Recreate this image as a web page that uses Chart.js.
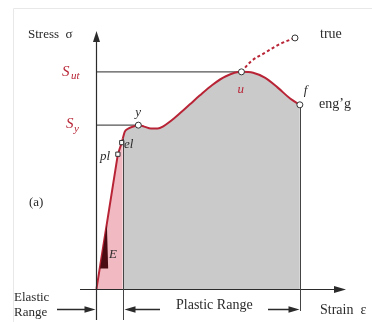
<!DOCTYPE html>
<html>
<head>
<meta charset="utf-8">
<script src="https://cdn.jsdelivr.net/npm/chart.js@4"></script>
<style>
  html, body { margin: 0; padding: 0; background: #fff; }
  #wrap { width: 372px; height: 322px; }
</style>
</head>
<body>
<div id="wrap"><canvas id="chart"></canvas></div>
<script>
'use strict';

// values: strain (mm/mm), stress (MPa, arbitrary scale)
const elasticStrain = [0, 0.011, 0.022, 0.026, 0.027];
const elasticStress = [0, 139, 278, 302, 310];

const plasticStrain = [0.027, 0.029, 0.032, 0.036, 0.043, 0.049, 0.056, 0.063, 0.069, 0.076,
  0.086, 0.096, 0.106, 0.119, 0.133, 0.149, 0.161, 0.173, 0.186, 0.199, 0.209];
const plasticStress = [310, 324, 330, 334, 338, 335, 331, 331, 336, 346,
  363, 381, 399, 421, 439, 448, 446, 436, 416, 393, 380];

const trueStrain = [0.149, 0.159, 0.172, 0.189, 0.204];
const trueStress = [448, 470, 486, 506, 518];

const Sut = 448;
const Sy = 338;
const ultStrain = 0.149;
const yieldStrain = 0.043;
const elasticLimit = 0.027;
const fracture = 0.209;
const fractureStress = 380;

// marked points: pl, el, y, u, f, end of true curve
const markStrain = [0.022, 0.026, 0.043, 0.149, 0.209, 0.204];
const markStress = [278, 302, 338, 448, 380, 518];
const markStyle = ['rect', 'rect', 'circle', 'circle', 'circle', 'circle'];

const RED = '#b82436';
const INK = '#2b2b2b';

const pts = (xs, ys) => xs.map((v, i) => ({x: v, y: ys[i]}));

function arrowHead(c, x, y, dir, len, half) {
  c.beginPath();
  if (dir === 'right') { c.moveTo(x, y); c.lineTo(x - len, y - half); c.lineTo(x - len, y + half); }
  if (dir === 'left') { c.moveTo(x, y); c.lineTo(x + len, y - half); c.lineTo(x + len, y + half); }
  if (dir === 'up') { c.moveTo(x, y); c.lineTo(x - half, y + len); c.lineTo(x + half, y + len); }
  c.closePath();
  c.fill();
}

const sketch = {
  id: 'sketch',
  beforeDatasetsDraw(chart) {
    const c = chart.ctx;
    c.save();
    c.strokeStyle = '#e8e8e8';
    c.lineWidth = 1;
    c.beginPath();
    c.moveTo(13.5, 322); c.lineTo(13.5, 8.5); c.lineTo(372, 8.5);
    c.stroke();
    c.restore();
  },
  afterDatasetsDraw(chart) {
    const c = chart.ctx, sx = chart.scales.x, sy = chart.scales.y;
    const X = v => sx.getPixelForValue(v), Y = v => sy.getPixelForValue(v);
    const x0 = Math.round(X(0)) + 0.5, y0 = Math.round(Y(0)) + 0.5;
    c.save();
    c.strokeStyle = INK; c.fillStyle = INK; c.lineWidth = 1.2;

    // axes
    c.beginPath();
    c.moveTo(x0, 320); c.lineTo(x0, 40);
    c.moveTo(80, y0); c.lineTo(336, y0);
    c.stroke();
    arrowHead(c, x0, 31, 'up', 11, 3.5);
    arrowHead(c, 346, y0, 'right', 12, 3.5);

    // range boundaries
    const xe = Math.round(X(elasticLimit)) + 0.5, xf = Math.round(X(fracture)) + 0.5;
    c.lineWidth = 1;
    c.strokeStyle = '#444';
    c.beginPath();
    c.moveTo(xe, Y(310)); c.lineTo(xe, 320);
    c.moveTo(xf, Y(fractureStress) + 3); c.lineTo(xf, 311);
    c.stroke();

    // range arrows
    c.strokeStyle = INK; c.lineWidth = 1.3;
    const ya = 309.5;
    c.beginPath();
    c.moveTo(57, ya); c.lineTo(x0 - 8, ya);
    c.moveTo(xe + 8, ya); c.lineTo(160, ya);
    c.moveTo(268, ya); c.lineTo(xf - 8, ya);
    c.stroke();
    arrowHead(c, x0 - 1, ya, 'right', 11, 3.2);
    arrowHead(c, xe + 1, ya, 'left', 11, 3.2);
    arrowHead(c, xf - 1, ya, 'right', 11, 3.2);

    // modulus slope triangle
    c.fillStyle = '#4a0c12';
    c.beginPath();
    c.moveTo(X(0.0037), Y(42));
    c.lineTo(X(0.0107), Y(133));
    c.lineTo(X(0.012), Y(42));
    c.closePath();
    c.fill();

    // texts
    c.textBaseline = 'middle';
    c.fillStyle = INK;
    c.font = '13px "Liberation Serif"';
    c.fillText('Stress  σ', 28, 35);
    c.fillText('Elastic', 14, 298);
    c.fillText('Range', 14, 313);
    c.fillText('(a)', 29, 203);
    c.font = '14px "Liberation Serif"';
    c.fillText('Plastic Range', 176, 305);
    c.fillText('Strain  ε', 320, 310);
    c.fillText('true', 320, 34);
    c.fillText('eng\u2019g', 319, 104);

    c.font = 'italic 13px "Liberation Serif"';
    c.fillText('y', X(yieldStrain) - 3, Y(Sy) - 13);
    c.fillText('f', X(fracture) + 4, Y(fractureStress) - 14);
    c.fillText('pl', 100, 157);
    c.fillText('el', 124, 145);
    c.fillText('E', 109, 255);

    c.fillStyle = RED;
    c.fillText('u', X(ultStrain) - 4, Y(Sut) + 18);
    c.font = 'italic 15px "Liberation Serif"';
    c.fillText('S', 62, Y(Sut));
    c.fillText('S', 66, Y(Sy) - 1);
    c.font = 'italic 11px "Liberation Serif"';
    c.fillText('ut', 71, Y(Sut) + 4);
    c.fillText('y', 74, Y(Sy) + 4);
    c.restore();
  }
};

new Chart(document.getElementById('chart').getContext('2d'), {
  type: 'scatter',
  data: {
    datasets: [
      {label: 'marks', data: pts(markStrain, markStress), showLine: false, order: 0,
        pointStyle: markStyle, pointRadius: 3, pointBackgroundColor: '#fff', pointBorderColor: '#333', pointBorderWidth: 1},
      {label: 'elastic', data: pts(elasticStrain, elasticStress), showLine: true, order: 2,
        borderColor: RED, borderWidth: 2, backgroundColor: '#f1b9c2', fill: 'origin', pointRadius: 0},
      {label: 'plastic', data: pts(plasticStrain, plasticStress), showLine: true, order: 3,
        borderColor: RED, borderWidth: 2, backgroundColor: '#cbcaca', fill: 'origin', pointRadius: 0,
        cubicInterpolationMode: 'monotone'},
      {label: 'true', data: pts(trueStrain, trueStress), showLine: true, order: 1,
        borderColor: RED, borderWidth: 2, borderDash: [3, 2.5], fill: false, pointRadius: 0,
        cubicInterpolationMode: 'monotone'},
      {label: 'Sut', data: pts([0, ultStrain], [Sut, Sut]), showLine: true, order: 4,
        borderColor: '#555', borderWidth: 1.2, pointRadius: 0},
      {label: 'Sy', data: pts([0, yieldStrain], [Sy, Sy]), showLine: true, order: 4,
        borderColor: '#555', borderWidth: 1.2, pointRadius: 0}
    ]
  },
  options: {
    responsive: true,
    maintainAspectRatio: false,
    animation: false,
    layout: {padding: 0},
    plugins: {legend: {display: false}, tooltip: {enabled: false}},
    scales: {
      x: {type: 'linear', display: false, min: -0.094, max: 0.278},
      y: {type: 'linear', display: false, min: -58, max: 586}
    }
  },
  plugins: [sketch]
});
</script>
</body>
</html>
